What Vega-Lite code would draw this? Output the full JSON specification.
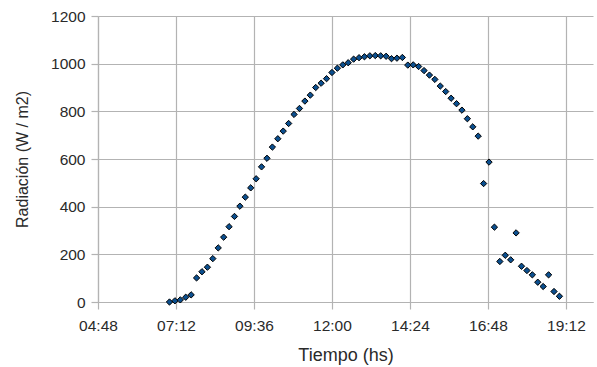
{
  "$schema": "https://vega.github.io/schema/vega-lite/v6.json",
  "width": 495,
  "height": 286,
  "autosize": {"type": "none"},
  "padding": {"left": 98, "top": 16, "right": 4, "bottom": 65},
  "background": "#ffffff",
  "config": {
    "view": {"stroke": null},
    "font": "Liberation Sans"
  },
  "data": {
    "values": [
      {"min": 420, "rad": 0}, {"min": 430, "rad": 5}, {"min": 440, "rad": 9}, {"min": 450, "rad": 20},
      {"min": 460, "rad": 30}, {"min": 470, "rad": 101}, {"min": 480, "rad": 127}, {"min": 490, "rad": 146},
      {"min": 500, "rad": 182}, {"min": 510, "rad": 227}, {"min": 520, "rad": 272}, {"min": 530, "rad": 316},
      {"min": 540, "rad": 359}, {"min": 550, "rad": 402}, {"min": 560, "rad": 440}, {"min": 570, "rad": 479},
      {"min": 580, "rad": 517}, {"min": 590, "rad": 567}, {"min": 600, "rad": 603}, {"min": 610, "rad": 650},
      {"min": 620, "rad": 685}, {"min": 630, "rad": 717}, {"min": 640, "rad": 749}, {"min": 650, "rad": 787},
      {"min": 660, "rad": 812}, {"min": 670, "rad": 843}, {"min": 680, "rad": 868}, {"min": 690, "rad": 900},
      {"min": 700, "rad": 918}, {"min": 710, "rad": 937}, {"min": 720, "rad": 963}, {"min": 730, "rad": 981},
      {"min": 740, "rad": 995}, {"min": 750, "rad": 1004}, {"min": 760, "rad": 1019}, {"min": 770, "rad": 1025},
      {"min": 780, "rad": 1029}, {"min": 790, "rad": 1033}, {"min": 800, "rad": 1034}, {"min": 810, "rad": 1033},
      {"min": 820, "rad": 1031}, {"min": 830, "rad": 1021}, {"min": 840, "rad": 1023}, {"min": 850, "rad": 1026},
      {"min": 860, "rad": 994}, {"min": 870, "rad": 995}, {"min": 880, "rad": 988}, {"min": 890, "rad": 971},
      {"min": 900, "rad": 952}, {"min": 910, "rad": 934}, {"min": 920, "rad": 906}, {"min": 930, "rad": 883},
      {"min": 940, "rad": 855}, {"min": 950, "rad": 832}, {"min": 960, "rad": 805}, {"min": 970, "rad": 769},
      {"min": 980, "rad": 735}, {"min": 990, "rad": 696}, {"min": 1000, "rad": 497}, {"min": 1010, "rad": 587},
      {"min": 1020, "rad": 314}, {"min": 1030, "rad": 170}, {"min": 1040, "rad": 196}, {"min": 1050, "rad": 177},
      {"min": 1060, "rad": 290}, {"min": 1070, "rad": 150}, {"min": 1080, "rad": 132}, {"min": 1090, "rad": 114},
      {"min": 1100, "rad": 83}, {"min": 1110, "rad": 65}, {"min": 1120, "rad": 114}, {"min": 1130, "rad": 44},
      {"min": 1140, "rad": 24}
    ]
  },
  "mark": {"type": "point", "shape": "diamond", "filled": true, "size": 40, "fill": "#0b4f8f", "stroke": "#000000", "strokeWidth": 1, "opacity": 1},
  "encoding": {
    "x": {
      "field": "min",
      "type": "quantitative",
      "scale": {"domain": [288, 1202], "nice": false, "zero": false},
      "axis": {
        "title": "Tiempo (hs)",
        "values": [288, 432, 576, 720, 864, 1008, 1152],
        "labelExpr": "timeFormat(datetime(2020, 0, 1, 0, datum.value), '%H:%M')",
        "grid": true,
        "gridColor": "#b3b3b3",
        "gridWidth": 1.2,
        "domainColor": "#b3b3b3",
        "domainWidth": 1.2,
        "tickColor": "#b3b3b3",
        "tickWidth": 1.2,
        "tickSize": 7,
        "labelFontSize": 15.5,
        "labelColor": "#2a2a2a",
        "labelPadding": 9,
        "labelFlush": false,
        "labelOverlap": false,
        "titleFontSize": 18,
        "titleFontWeight": "normal",
        "titleColor": "#2a2a2a",
        "titlePadding": 13
      }
    },
    "y": {
      "field": "rad",
      "type": "quantitative",
      "scale": {"domain": [0, 1200], "nice": false},
      "axis": {
        "title": "Radiación (W / m2)",
        "values": [0, 200, 400, 600, 800, 1000, 1200],
        "format": "d",
        "grid": true,
        "gridColor": "#b3b3b3",
        "gridWidth": 1.2,
        "domainColor": "#b3b3b3",
        "domainWidth": 1.2,
        "tickColor": "#b3b3b3",
        "tickWidth": 1.2,
        "tickSize": 7,
        "labelFontSize": 15.5,
        "labelColor": "#2a2a2a",
        "labelPadding": 6,
        "titleFontSize": 16,
        "titleFontWeight": "normal",
        "titleColor": "#2a2a2a",
        "titlePadding": 20
      }
    }
  }
}
